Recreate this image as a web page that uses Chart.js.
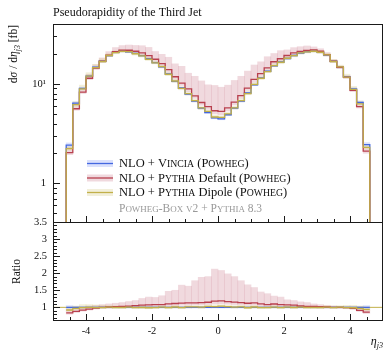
<!DOCTYPE html>
<html>
<head>
<meta charset="utf-8">
<title>Pseudorapidity of the Third Jet</title>
<script src="https://cdn.jsdelivr.net/npm/chart.js@4.4.1/dist/chart.umd.min.js"></script>
<style>
  html, body { margin: 0; padding: 0; background: #fff; }
  #wrap { position: relative; width: 384px; height: 352px; overflow: hidden; }
  canvas { position: absolute; left: 0; }
  #mainChart { top: 0; }
  #ratioChart { top: 212px; }
</style>
</head>
<body>
<div id="wrap">
  <canvas id="mainChart" width="384" height="227"></canvas>
  <canvas id="ratioChart" width="384" height="140"></canvas>
</div>
<script>
const TITLE = 'Pseudorapidity of the Third Jet';

// bin edges of eta_j3
const etaEdges = [
  -4.6, -4.4, -4.2, -4.0, -3.8, -3.6, -3.4, -3.2, -3.0, -2.8,
  -2.6, -2.4, -2.2, -2.0, -1.8, -1.6, -1.4, -1.2, -1.0, -0.8,
  -0.6, -0.4, -0.2, 0.0, 0.2, 0.4, 0.6, 0.8, 1.0, 1.2,
  1.4, 1.6, 1.8, 2.0, 2.2, 2.4, 2.6, 2.8, 3.0, 3.2,
  3.4, 3.6, 3.8, 4.0, 4.2, 4.4, 4.6
];

// dsigma/deta [fb]
const vincia = [
  2.43, 6.4, 9.0, 12.0, 14.7, 16.9, 19.2, 20.7, 21.3, 21.0,
  20.3, 19.2, 17.9, 16.4, 14.8, 12.6, 10.6, 9.1, 7.9, 6.7,
  5.7, 5.15, 4.55, 4.45, 4.9, 5.7, 6.7, 8.1, 9.8, 11.5,
  13.4, 15.2, 16.6, 18.0, 19.3, 20.4, 21.1, 21.4, 20.9, 19.5,
  16.9, 14.7, 11.8, 8.9, 6.5, 2.45
];
const pythiaDefault = [
  2.04, 5.63, 8.28, 11.4, 14.4, 16.9, 19.4, 21.1, 21.9, 21.8,
  21.3, 20.5, 19.2, 17.7, 16.0, 13.9, 11.8, 10.2, 8.93, 7.57,
  6.50, 5.92, 5.37, 5.30, 5.73, 6.56, 7.64, 9.07, 11.1, 12.7,
  14.5, 16.7, 17.9, 19.3, 20.5, 21.2, 21.7, 22.0, 21.3, 19.7,
  16.9, 14.7, 11.7, 8.63, 5.92, 2.11
];
const pythiaDipole = [
  2.24, 6.2, 8.9, 12.0, 14.6, 16.8, 19.3, 20.6, 21.2, 21.1,
  20.1, 19.1, 17.7, 16.3, 14.9, 12.5, 10.7, 9.0, 8.0, 6.8,
  5.75, 5.3, 4.65, 4.6, 5.0, 5.75, 6.8, 8.0, 9.9, 11.4,
  13.3, 15.3, 16.5, 18.1, 19.2, 20.5, 21.0, 21.3, 20.8, 19.6,
  16.8, 14.8, 11.7, 8.8, 6.3, 2.3
];

// uncertainty bands, read as ratio to Vincia
const vinciaErr = [
  0.05, 0.03, 0.03, 0.02, 0.02, 0.02, 0.02, 0.02, 0.02, 0.02,
  0.02, 0.02, 0.02, 0.02, 0.02, 0.02, 0.02, 0.02, 0.02, 0.02,
  0.02, 0.02, 0.02, 0.02, 0.02, 0.02, 0.02, 0.02, 0.02, 0.02,
  0.02, 0.02, 0.02, 0.02, 0.02, 0.02, 0.02, 0.02, 0.02, 0.02,
  0.02, 0.02, 0.02, 0.03, 0.03, 0.05
];
const defaultBandHi = [
  0.95, 0.97, 1.0, 1.04, 1.06, 1.08, 1.1, 1.12, 1.14, 1.17,
  1.2, 1.26, 1.3, 1.29, 1.34, 1.47, 1.5, 1.65, 1.62, 1.78,
  1.88, 1.9, 2.12, 2.08, 1.98, 1.9, 1.78, 1.66, 1.58, 1.45,
  1.4, 1.33, 1.3, 1.22, 1.2, 1.16, 1.14, 1.1, 1.08, 1.06,
  1.04, 1.03, 1.02, 1.0, 0.95, 0.92
];
const defaultBandLo = [
  0.80, 0.85, 0.89, 0.92, 0.95, 0.97, 0.98, 0.99, 1.0, 1.0,
  1.01, 1.02, 1.02, 1.03, 1.03, 1.04, 1.05, 1.06, 1.06, 1.07,
  1.07, 1.08, 1.1, 1.1, 1.09, 1.08, 1.07, 1.06, 1.06, 1.04,
  1.03, 1.04, 1.03, 1.02, 1.01, 1.0, 0.99, 0.99, 0.98, 0.98,
  0.97, 0.97, 0.96, 0.94, 0.88, 0.82
];
const dipoleBandHi = [
  0.97, 1.04, 1.08, 1.08, 1.07, 1.06, 1.05, 1.04, 1.03, 1.03,
  1.02, 1.03, 1.03, 1.03, 1.04, 1.03, 1.05, 1.03, 1.05, 1.05,
  1.04, 1.06, 1.07, 1.07, 1.06, 1.05, 1.06, 1.04, 1.05, 1.03,
  1.03, 1.05, 1.03, 1.04, 1.03, 1.04, 1.03, 1.03, 1.03, 1.04,
  1.04, 1.05, 1.06, 1.06, 1.04, 0.98
];
const dipoleBandLo = [
  0.89, 0.93, 0.96, 0.97, 0.97, 0.97, 0.98, 0.97, 0.97, 0.98,
  0.96, 0.97, 0.96, 0.97, 0.98, 0.96, 0.98, 0.96, 0.98, 0.99,
  0.97, 1.0, 0.99, 1.0, 0.99, 0.98, 0.99, 0.96, 0.98, 0.96,
  0.97, 0.98, 0.96, 0.98, 0.97, 0.98, 0.97, 0.97, 0.97, 0.98,
  0.97, 0.98, 0.97, 0.96, 0.94, 0.90
];

// axes
const xTicks = [-4, -2, 0, 2, 4];
const xMinorTicks = [-4.5, -3.5, -3, -2.5, -1.5, -1, -0.5, 0.5, 1, 1.5, 2.5, 3, 3.5, 4.5];
const yMainTicks = [1, 10];
const yMainMinor = [0.5, 0.6, 0.7, 0.8, 0.9, 2, 3, 4, 5, 6, 7, 8, 9, 20, 30];
const yRatioTicks = [1, 1.5, 2, 2.5, 3, 3.5];
const yRatioMinor = [0.7, 0.8, 0.9, 1.1, 1.2, 1.3, 1.4, 1.6, 1.7, 1.8, 1.9,
  2.1, 2.2, 2.3, 2.4, 2.6, 2.7, 2.8, 2.9, 3.1, 3.2, 3.3, 3.4];

const legendLabels = ['NLO + Vincia (Powheg)', 'NLO + Pythia Default (Powheg)', 'NLO + Pythia Dipole (Powheg)'];
const legendNote = 'Powheg-Box v2 + Pythia 8.3';

const Y_MIN = 0.4, Y_MAX = 40;
const R_MIN = 0.6, R_MAX = 3.5;

const SERIF = '"Liberation Serif", "DejaVu Serif", serif';
const COL = {
  vin: '#4468e0', vinBand: 'rgba(90,120,240,0.22)',
  def: '#b8404e', defBand: 'rgba(200,120,135,0.28)',
  dip: '#c2b04a', dipBand: 'rgba(215,205,140,0.32)',
};

// build a stepped histogram path from bin values
function histPoints(vals, floor) {
  const pts = [];
  const n = vals.length;
  if (floor !== undefined) pts.push({ x: etaEdges[0], y: floor });
  vals.forEach((v, i) => pts.push({ x: etaEdges[i], y: v }));
  pts.push({ x: etaEdges[n], y: vals[n - 1] });
  if (floor !== undefined) pts.push({ x: etaEdges[n], y: floor });
  return pts;
}
function bandBars(lo, hi) {
  return lo.map((l, i) => ({ x: (etaEdges[i] + etaEdges[i + 1]) / 2, y: [l, hi[i]] }));
}
function times(a, b) { return a.map((v, i) => v * b[i]); }
function ratioOf(a) { return a.map((v, i) => v / vincia[i]); }

function bandDs(data, color, order) {
  return { type: 'bar', data, backgroundColor: color, borderWidth: 0,
    barPercentage: 1, categoryPercentage: 1, grouped: false, order };
}
function lineDs(data, color, order, width) {
  return { type: 'line', data, borderColor: color, borderWidth: width || 1.3,
    stepped: true, pointRadius: 0, fill: false, tension: 0, order };
}

// frame + inward ticks
const panelDecor = {
  id: 'panelDecor',
  afterDatasetsDraw(chart, args, o) {
    const { ctx, chartArea: a } = chart;
    const xs = chart.scales.x, ys = chart.scales.y;
    ctx.save();
    ctx.strokeStyle = '#1a1a1a';
    ctx.lineWidth = 1;
    ctx.beginPath();
    const tickX = (vals, len) => vals.forEach(v => {
      const px = Math.round(xs.getPixelForValue(v)) + 0.5;
      ctx.moveTo(px, a.bottom); ctx.lineTo(px, a.bottom - len);
    });
    const tickY = (vals, len) => vals.forEach(v => {
      const py = Math.round(ys.getPixelForValue(v)) + 0.5;
      ctx.moveTo(a.left, py); ctx.lineTo(a.left + len, py);
    });
    tickX(o.xMajor, 7); tickX(o.xMinor, 4);
    tickY(o.yMajor, 7); tickY(o.yMinor, 4);
    ctx.stroke();
    ctx.strokeRect(a.left + 0.5, a.top + 0.5, a.width - 1, a.height - 1);
    ctx.restore();
  }
};

function drawSC(ctx, text, x, y, size) {
  for (const ch of text) {
    const small = ch !== ch.toUpperCase();
    const c = ch.toUpperCase();
    ctx.font = (small ? size * 0.78 : size) + 'px ' + SERIF;
    ctx.fillText(c, x, y);
    x += ctx.measureText(c).width;
  }
  return x;
}
function drawMixed(ctx, text, x, y, size) {
  text.split(/(Vincia|Pythia|Powheg)/).forEach((part, i) => {
    if (!part) return;
    if (i % 2) { x = drawSC(ctx, part, x, y, size); return; }
    ctx.font = size + 'px ' + SERIF;
    ctx.fillText(part, x, y);
    x += ctx.measureText(part).width;
  });
  return x;
}
function drawParts(ctx, parts, x, y) {
  parts.forEach(p => {
    ctx.font = (p.italic ? 'italic ' : '') + p.size + 'px ' + SERIF;
    ctx.fillText(p.t, x, y + (p.dy || 0));
    x += ctx.measureText(p.t).width;
  });
  return x;
}
function partsWidth(ctx, parts) {
  return parts.reduce((w, p) => {
    ctx.font = (p.italic ? 'italic ' : '') + p.size + 'px ' + SERIF;
    return w + ctx.measureText(p.t).width;
  }, 0);
}

const mainText = {
  id: 'mainText',
  afterDraw(chart) {
    const ctx = chart.ctx;
    ctx.save();
    ctx.fillStyle = '#111';
    ctx.textBaseline = 'alphabetic';
    ctx.font = '12px ' + SERIF;
    ctx.fillText(TITLE, 53, 16);

    // y axis title, rotated, aligned to top
    const yParts = [
      { t: 'd', size: 11.5 }, { t: 'σ', size: 11.5, italic: true }, { t: ' / d', size: 11.5 },
      { t: 'η', size: 11.5, italic: true }, { t: 'j3', size: 8, italic: true, dy: 3 },
      { t: ' [fb]', size: 11.5 }
    ];
    ctx.save();
    ctx.translate(17, 25);
    ctx.rotate(-Math.PI / 2);
    drawParts(ctx, yParts, -partsWidth(ctx, yParts), 0);
    ctx.restore();

    // legend
    const rows = [
      [COL.vin, COL.vinBand], [COL.def, COL.defBand], [COL.dip, COL.dipBand]
    ];
    const cy = [163.5, 178, 192.5];
    rows.forEach((r, i) => {
      ctx.fillStyle = r[1];
      ctx.fillRect(87, cy[i] - 3.5, 26, 7);
      ctx.strokeStyle = r[0];
      ctx.lineWidth = 1.3;
      ctx.beginPath(); ctx.moveTo(87, cy[i]); ctx.lineTo(113, cy[i]); ctx.stroke();
      ctx.fillStyle = '#111';
      drawMixed(ctx, legendLabels[i], 119, cy[i] + 3.8, 12.5);
    });
    ctx.fillStyle = '#999';
    drawSC(ctx, legendNote, 119, 211.5, 11.5);
    ctx.restore();
  }
};

const ratioText = {
  id: 'ratioText',
  afterDraw(chart) {
    const ctx = chart.ctx;
    ctx.save();
    ctx.fillStyle = '#111';
    ctx.save();
    ctx.translate(20, 59.5);
    ctx.rotate(-Math.PI / 2);
    ctx.textAlign = 'center';
    ctx.font = '11.5px ' + SERIF;
    ctx.fillText('Ratio', 0, 0);
    ctx.restore();
    const xParts = [{ t: 'η', size: 12, italic: true }, { t: 'j3', size: 8, italic: true, dy: 3 }];
    drawParts(ctx, xParts, 383 - partsWidth(ctx, xParts), 133);
    ctx.restore();
  }
};

const tickFont = { family: SERIF, size: 10.5 };
const noGrid = { display: false, drawTicks: false };
const fitY = s => { s.width = 53; s.paddingTop = 0; s.paddingBottom = 0; };

new Chart(document.getElementById('mainChart'), {
  type: 'line',
  data: {
    datasets: [
      bandDs(bandBars(times(vincia, defaultBandLo), times(vincia, defaultBandHi)), COL.defBand, 12),
      bandDs(bandBars(vincia.map((v, i) => v * (1 - vinciaErr[i])), vincia.map((v, i) => v * (1 + vinciaErr[i]))), COL.vinBand, 11),
      bandDs(bandBars(times(vincia, dipoleBandLo), times(vincia, dipoleBandHi)), COL.dipBand, 10),
      lineDs(histPoints(vincia, Y_MIN), COL.vin, 3),
      lineDs(histPoints(pythiaDefault, Y_MIN), COL.def, 2),
      lineDs(histPoints(pythiaDipole, Y_MIN), COL.dip, 1),
    ]
  },
  options: {
    responsive: false,
    animation: false,
    events: [],
    layout: { padding: { left: 0, right: 1, top: 24, bottom: 4 } },
    plugins: {
      legend: { display: false },
      tooltip: { enabled: false },
      panelDecor: { xMajor: xTicks, xMinor: xMinorTicks, yMajor: yMainTicks, yMinor: yMainMinor }
    },
    scales: {
      x: { type: 'linear', min: -5, max: 5, offset: false, display: false },
      y: {
        type: 'logarithmic', min: Y_MIN, max: Y_MAX,
        grid: noGrid, border: { display: false },
        ticks: { autoSkip: false, padding: 7, color: '#111', font: tickFont,
          callback: v => (v === 10 ? '10¹' : String(v)) },
        afterBuildTicks: s => { s.ticks = yMainTicks.map(v => ({ value: v })); },
        afterFit: fitY
      }
    }
  },
  plugins: [panelDecor, mainText]
});

new Chart(document.getElementById('ratioChart'), {
  type: 'line',
  data: {
    datasets: [
      bandDs(bandBars(defaultBandLo, defaultBandHi), COL.defBand, 12),
      bandDs(bandBars(vinciaErr.map(e => 1 - e), vinciaErr.map(e => 1 + e)), COL.vinBand, 11),
      bandDs(bandBars(dipoleBandLo, dipoleBandHi), COL.dipBand, 10),
      lineDs([{ x: -5, y: 1 }, { x: 5, y: 1 }], COL.dip, 5, 1),
      lineDs(histPoints(ratioOf(vincia)), COL.vin, 3),
      lineDs(histPoints(ratioOf(pythiaDefault)), COL.def, 2),
      lineDs(histPoints(ratioOf(pythiaDipole)), COL.dip, 1),
    ]
  },
  options: {
    responsive: false,
    animation: false,
    events: [],
    layout: { padding: { left: 0, right: 1, top: 10, bottom: 0 } },
    plugins: {
      legend: { display: false },
      tooltip: { enabled: false },
      panelDecor: { xMajor: xTicks, xMinor: xMinorTicks, yMajor: yRatioTicks, yMinor: yRatioMinor }
    },
    scales: {
      x: {
        type: 'linear', min: -5, max: 5, offset: false,
        grid: noGrid, border: { display: false },
        ticks: { autoSkip: false, padding: 4, color: '#111', font: tickFont, maxRotation: 0,
          callback: v => String(v) },
        afterBuildTicks: s => { s.ticks = xTicks.map(v => ({ value: v })); },
        afterFit: s => { s.height = 31; s.paddingLeft = 0; s.paddingRight = 0; }
      },
      y: {
        type: 'linear', min: R_MIN, max: R_MAX,
        grid: noGrid, border: { display: false },
        ticks: { autoSkip: false, padding: 6, color: '#111', font: tickFont,
          callback: v => String(v) },
        afterBuildTicks: s => { s.ticks = yRatioTicks.map(v => ({ value: v })); },
        afterFit: fitY
      }
    }
  },
  plugins: [panelDecor, ratioText]
});
</script>
</body>
</html>
